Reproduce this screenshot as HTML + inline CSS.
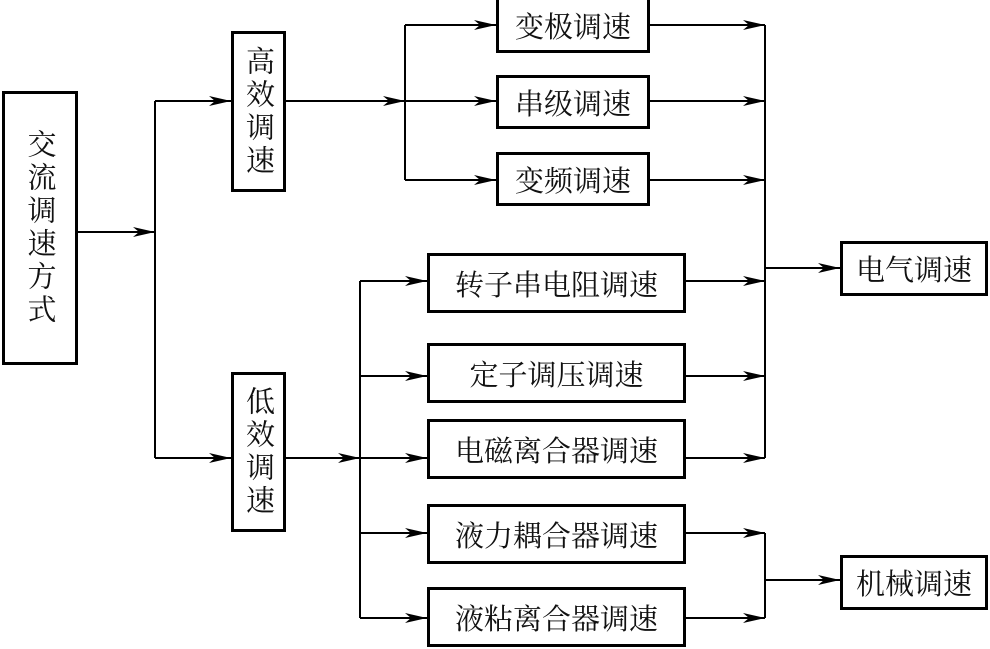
<!DOCTYPE html>
<html><head><meta charset="utf-8"><style>
html,body{margin:0;padding:0;background:#fff}
.b{position:absolute;border:3px solid #000;box-sizing:border-box;display:flex;align-items:center;justify-content:center;font-family:"Liberation Serif","Noto Serif CJK SC",serif;font-size:29px;color:#111;background:#fff}
.v{writing-mode:vertical-rl;letter-spacing:4px}
</style></head><body>
<div style="position:relative;width:990px;height:649px;overflow:hidden">
<svg width="990" height="649" style="position:absolute;left:0;top:0">
<defs><marker id="a" markerWidth="24" markerHeight="10" refX="22" refY="5" orient="auto" markerUnits="userSpaceOnUse"><path d="M0,0 L22,5 L0,10 L6,5 Z" fill="#000"/></marker></defs>
<g stroke="#000" stroke-width="2" fill="none">
<line x1="78" y1="232" x2="155" y2="232" marker-end="url(#a)"/>
<line x1="155" y1="101" x2="155" y2="458"/>
<line x1="155" y1="101" x2="231" y2="101" marker-end="url(#a)"/>
<line x1="155" y1="458" x2="231" y2="458" marker-end="url(#a)"/>
<line x1="286" y1="101" x2="405" y2="101" marker-end="url(#a)"/>
<line x1="405" y1="25" x2="405" y2="180"/>
<line x1="405" y1="25" x2="496" y2="25" marker-end="url(#a)"/>
<line x1="405" y1="101" x2="496" y2="101" marker-end="url(#a)"/>
<line x1="405" y1="180" x2="496" y2="180" marker-end="url(#a)"/>
<line x1="650" y1="25" x2="765" y2="25" marker-end="url(#a)"/>
<line x1="650" y1="101" x2="765" y2="101" marker-end="url(#a)"/>
<line x1="650" y1="180" x2="765" y2="180" marker-end="url(#a)"/>
<line x1="765" y1="25" x2="765" y2="458"/>
<line x1="765" y1="268" x2="840" y2="268" marker-end="url(#a)"/>
<line x1="286" y1="458" x2="360" y2="458" marker-end="url(#a)"/>
<line x1="360" y1="281" x2="360" y2="618"/>
<line x1="360" y1="281" x2="427" y2="281" marker-end="url(#a)"/>
<line x1="360" y1="376" x2="427" y2="376" marker-end="url(#a)"/>
<line x1="360" y1="458" x2="427" y2="458" marker-end="url(#a)"/>
<line x1="360" y1="533" x2="427" y2="533" marker-end="url(#a)"/>
<line x1="360" y1="618" x2="427" y2="618" marker-end="url(#a)"/>
<line x1="686" y1="281" x2="765" y2="281" marker-end="url(#a)"/>
<line x1="686" y1="376" x2="765" y2="376" marker-end="url(#a)"/>
<line x1="686" y1="458" x2="765" y2="458" marker-end="url(#a)"/>
<line x1="686" y1="533" x2="765" y2="533" marker-end="url(#a)"/>
<line x1="686" y1="618" x2="765" y2="618" marker-end="url(#a)"/>
<line x1="765" y1="533" x2="765" y2="618"/>
<line x1="765" y1="580" x2="840" y2="580" marker-end="url(#a)"/>
</g></svg>
<div class="b v" style="left:2px;top:91px;width:76px;height:274px">交流调速方式</div>
<div class="b v" style="left:231px;top:31px;width:55px;height:161px">高效调速</div>
<div class="b v" style="left:231px;top:372px;width:55px;height:160px">低效调速</div>
<div class="b" style="left:496px;top:-3px;width:154px;height:56px">变极调速</div>
<div class="b" style="left:496px;top:75px;width:154px;height:54px">串级调速</div>
<div class="b" style="left:496px;top:152px;width:154px;height:54px">变频调速</div>
<div class="b" style="left:427px;top:253px;width:259px;height:60px">转子串电阻调速</div>
<div class="b" style="left:427px;top:343px;width:259px;height:60px">定子调压调速</div>
<div class="b" style="left:427px;top:419px;width:259px;height:60px">电磁离合器调速</div>
<div class="b" style="left:427px;top:504px;width:259px;height:60px">液力耦合器调速</div>
<div class="b" style="left:427px;top:587px;width:259px;height:60px">液粘离合器调速</div>
<div class="b" style="left:840px;top:241px;width:148px;height:55px">电气调速</div>
<div class="b" style="left:840px;top:555px;width:148px;height:55px">机械调速</div>
</div>
</body></html>
